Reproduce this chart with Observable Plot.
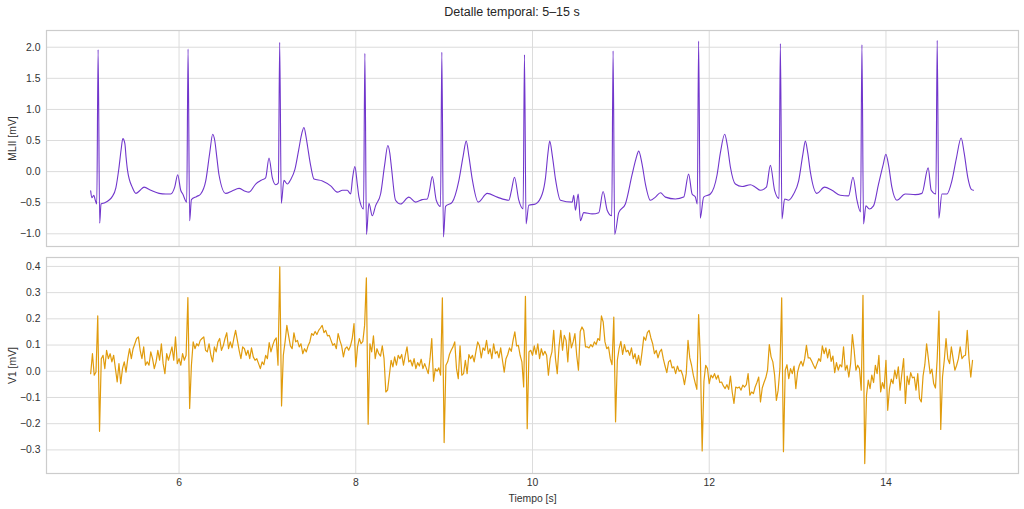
<!DOCTYPE html>
<html><head><meta charset="utf-8">
<script src="https://cdn.jsdelivr.net/npm/d3@7"></script>
<script src="https://cdn.jsdelivr.net/npm/@observablehq/plot@0.6"></script>
<style>
body{margin:0;background:#fff;}
#wrap{position:relative;width:1024px;height:509px;font-family:"Liberation Sans",Arial,sans-serif;overflow:hidden;}
#title{position:absolute;top:4px;left:0;width:1024px;text-align:center;font-size:12.5px;line-height:16px;color:#262626;}
#top{position:absolute;top:0;left:0}
#bot{position:absolute;top:250px;left:0}
</style></head><body>
<div id="wrap"><div id="top"></div><div id="bot"></div><div id="title">Detalle temporal: 5–15 s</div></div>
<script>
// ---- Data ----
const titleText = "Detalle temporal: 5–15 s";
const xTicks = [6, 8, 10, 12, 14];
const yTicksTop = [-1.0, -0.5, 0.0, 0.5, 1.0, 1.5, 2.0];
const yTicksBot = [-0.3, -0.2, -0.1, 0.0, 0.1, 0.2, 0.3, 0.4];

// MLII lead: time [s] and amplitude [mV]
const mliiT = [
5.000,5.013,5.036,5.050,5.069,5.084,5.102,5.117,5.160,5.206,5.240,5.285,5.319,5.345,5.364,5.387,5.400,5.417,5.473,5.512,5.560,5.604,5.680,5.774,5.850,5.906,5.951,5.985,6.019,6.042,6.087,
6.102,6.120,6.140,6.200,6.245,6.302,6.347,6.381,6.404,6.430,6.452,6.528,6.600,6.679,6.740,6.792,6.867,6.930,6.980,7.018,7.056,7.094,7.124,
7.139,7.157,7.187,7.226,7.263,7.312,7.354,7.390,7.414,7.435,7.455,7.489,7.527,7.622,7.716,7.791,7.850,7.904,7.942,7.964,7.990,8.017,8.036,8.088,
8.103,8.121,8.149,8.187,8.224,8.281,8.326,8.363,8.385,8.405,8.450,8.507,8.601,8.677,8.750,8.809,8.835,8.866,8.911,8.959,
8.974,8.992,9.016,9.092,9.166,9.215,9.250,9.280,9.318,9.386,9.488,9.601,9.732,9.762,9.796,9.845,9.894,
9.909,9.927,9.958,10.034,10.110,10.147,10.175,10.195,10.225,10.260,10.316,10.449,10.467,10.486,10.517,10.543,10.580,10.675,10.750,10.799,10.845,10.897,
10.912,10.930,10.976,11.051,11.127,11.170,11.202,11.240,11.278,11.334,11.391,11.448,11.504,11.617,11.711,11.767,11.806,11.843,11.865,
11.880,11.898,11.937,12.013,12.089,12.126,12.175,12.205,12.240,12.296,12.372,12.466,12.522,12.579,12.647,12.692,12.740,12.790,
12.805,12.823,12.853,12.898,12.955,13.012,13.060,13.088,13.115,13.144,13.219,13.305,13.389,13.483,13.577,13.627,13.672,13.713,
13.728,13.746,13.773,13.811,13.859,13.916,13.970,13.999,14.030,14.067,14.124,14.218,14.331,14.407,14.478,14.512,14.565,
14.580,14.598,14.633,14.690,14.746,14.795,14.851,14.885,14.927,14.964,14.990];
const mliiV = [
-0.31,-0.42,-0.38,-0.45,-0.52,1.96,-0.83,-0.52,-0.50,-0.46,-0.41,-0.26,0.05,0.36,0.53,0.45,0.24,0.02,-0.26,-0.35,-0.30,-0.25,-0.30,-0.35,-0.36,-0.36,-0.25,-0.05,-0.30,-0.36,-0.49,
1.97,-0.79,-0.45,-0.40,-0.36,-0.15,0.30,0.60,0.50,0.20,-0.05,-0.35,-0.31,-0.27,-0.31,-0.33,-0.20,-0.14,-0.10,0.22,-0.10,-0.21,-0.18,
2.08,-0.51,-0.14,-0.20,-0.13,0.04,0.35,0.62,0.71,0.58,0.40,0.10,-0.12,-0.15,-0.23,-0.33,-0.30,-0.30,-0.36,-0.10,0.08,-0.20,-0.41,-0.60,
1.90,-1.01,-0.51,-0.71,-0.55,-0.36,0.10,0.42,0.30,0.05,-0.46,-0.52,-0.41,-0.49,-0.45,-0.44,-0.30,-0.08,-0.46,-0.56,
1.92,-1.05,-0.56,-0.49,-0.15,0.25,0.49,0.25,-0.12,-0.49,-0.35,-0.41,-0.46,-0.30,-0.09,-0.46,-0.60,
1.88,-0.84,-0.54,-0.52,-0.36,-0.10,0.30,0.49,0.25,-0.12,-0.46,-0.49,-0.38,-0.62,-0.36,-0.79,-0.66,-0.68,-0.66,-0.32,-0.62,-0.71,
1.94,-1.01,-0.66,-0.52,-0.05,0.20,0.33,0.12,-0.20,-0.46,-0.41,-0.34,-0.41,-0.44,-0.41,-0.04,-0.36,-0.41,-0.52,
2.10,-0.75,-0.41,-0.36,-0.05,0.30,0.60,0.42,0.07,-0.20,-0.24,-0.21,-0.25,-0.30,-0.25,0.10,-0.30,-0.43,
2.06,-0.76,-0.44,-0.46,-0.36,-0.15,0.28,0.49,0.30,0.00,-0.35,-0.25,-0.30,-0.38,-0.39,-0.09,-0.46,-0.65,
2.04,-0.84,-0.55,-0.60,-0.55,-0.20,0.12,0.28,0.10,-0.25,-0.46,-0.36,-0.37,-0.35,0.06,-0.30,-0.36,
2.11,-0.75,-0.36,-0.36,-0.15,0.20,0.54,0.30,-0.10,-0.28,-0.30];

// V1 lead: samples every 0.02 s starting at 5.00 s [mV]
const v1Start = 5.0;
const v1Step = 0.02;
const v1V = [
-0.009,0.067,-0.015,-0.003,0.211,-0.229,0.048,0.061,0.010,0.080,
0.048,0.067,0.036,0.061,0.010,-0.041,0.029,-0.047,0.010,0.036,
-0.003,0.048,0.086,0.048,0.086,0.105,0.125,0.131,0.080,0.048,
0.093,0.023,0.036,0.023,0.074,0.048,0.010,0.036,0.080,0.042,
0.105,0.029,-0.009,0.067,0.042,0.067,0.093,0.042,0.131,0.029,
0.048,0.023,0.067,0.042,0.061,0.281,-0.142,0.023,0.112,0.086,
0.105,0.097,0.118,0.125,0.131,0.080,0.074,0.105,0.061,0.036,
0.093,0.074,0.112,0.125,0.080,0.097,0.125,0.147,0.086,0.112,
0.089,0.125,0.156,0.118,0.080,0.048,0.093,0.086,0.061,0.080,
0.048,0.089,0.055,0.042,0.048,0.029,0.010,0.036,0.025,0.061,
0.048,0.109,0.074,0.099,0.118,0.127,0.023,0.398,-0.132,0.061,
0.112,0.175,0.135,0.097,0.086,0.147,0.112,0.118,0.093,0.105,
0.067,0.086,0.074,0.097,0.112,
0.144,0.137,0.152,0.140,0.156,0.165,0.175,0.147,0.156,0.135,
0.137,0.118,0.099,0.105,0.086,0.144,0.118,0.097,0.055,0.086,
0.093,0.080,0.097,0.125,0.182,0.017,0.093,0.125,0.105,0.114,
0.175,0.356,-0.202,0.105,0.074,0.135,0.048,0.086,0.067,0.058,
0.097,0.048,-0.079,-0.072,-0.015,0.042,0.017,0.055,0.023,0.061,
0.048,0.064,0.023,0.061,0.093,0.036,0.042,0.020,0.048,0.010,
0.033,0.020,0.046,0.010,0.029,0.010,-0.009,0.048,0.125,-0.038,
0.010,0.000,0.013,-0.015,0.280,-0.272,0.023,0.036,0.064,0.080,
0.093,0.112,0.010,-0.028,0.097,-0.015,-0.009,0.042,-0.009,0.064,
0.048,0.061,0.036,0.076,0.112,0.097,0.051,0.089,0.080,0.118,
0.067,0.086,0.048,0.105,0.067,0.076,0.051,0.089,0.042,-0.003,
0.048,0.064,0.089,0.076,0.118,0.150,0.097,0.099,0.061,0.036,
-0.060,0.286,-0.219,0.074,
0.080,0.061,0.097,0.064,0.105,0.048,0.086,0.061,0.076,0.061,
-0.015,0.048,0.074,0.156,0.048,-0.009,0.093,0.156,0.080,0.137,
0.118,0.036,0.147,0.089,0.112,0.144,0.061,0.004,0.152,0.169,
0.156,0.093,0.093,0.089,0.102,0.093,0.112,0.102,0.125,0.118,
0.211,0.188,0.112,0.086,0.093,0.048,0.025,0.207,-0.193,0.042,
0.086,0.114,0.064,0.102,0.074,0.080,0.061,0.089,0.048,0.067,
0.029,0.061,0.023,0.074,0.131,0.118,0.147,0.156,0.127,0.105,
0.067,0.080,0.051,0.074,0.084,0.048,0.020,-0.005,0.036,0.042,
0.013,0.017,-0.009,0.020,0.000,0.004,-0.015,-0.051,-0.009,0.118,
0.051,0.023,-0.015,-0.043,-0.069,0.216,0.048,-0.304,-0.038,0.023,
0.010,-0.047,-0.015,-0.025,-0.009,-0.030,-0.015,-0.043,-0.041,-0.056,
-0.066,-0.051,-0.069,-0.018,-0.079,-0.123,-0.060,-0.064,-0.060,-0.072,
-0.053,-0.060,-0.051,-0.009,-0.091,
-0.079,-0.085,-0.060,-0.043,-0.022,-0.117,-0.064,-0.043,-0.025,0.004,
0.102,0.055,0.036,-0.015,-0.111,-0.072,0.010,0.280,-0.307,0.004,
0.025,-0.028,0.010,-0.009,0.020,-0.066,-0.003,0.023,0.038,0.020,
0.048,0.099,0.051,0.051,0.038,0.023,0.010,0.029,0.048,0.038,
0.097,0.067,0.089,0.051,0.084,0.038,0.058,-0.005,0.033,0.004,
0.025,0.017,0.093,0.004,0.023,-0.022,0.029,0.140,0.080,0.004,
0.023,0.010,-0.072,0.290,-0.352,-0.091,-0.034,-0.066,-0.015,-0.043,
0.023,-0.009,0.061,-0.079,-0.043,-0.066,0.042,-0.149,-0.066,-0.030,
-0.047,0.004,-0.028,0.017,-0.072,-0.009,0.048,-0.123,-0.018,-0.051,
-0.005,-0.025,-0.022,-0.072,-0.009,-0.104,-0.117,-0.018,0.025,0.105,
0.048,-0.009,0.008,-0.047,-0.064,0.048,0.230,-0.222,-0.022,0.042,
0.125,0.048,0.029,0.093,0.048,0.004,0.023,0.048,0.093,0.048,
0.058,0.061,0.156,0.048,-0.022,0.042];

// ---- Build tables ----
const mlii = mliiT.map((t, i) => ({t, v: mliiV[i]}));
const v1 = v1V.map((v, i) => ({t: v1Start + i * v1Step, v}));

const font = '"Liberation Sans", Arial, sans-serif';
const gridColor = "#dcdcdc";
const frameColor = "#cccccc";
const textColor = "#333333";
const fmt1 = d3.format(".1f");
const common = {
  width: 1024, marginLeft: 46, marginRight: 6,
  style: {fontFamily: font, fontSize: "10.4px", color: textColor, background: "transparent", overflow: "visible"}
};

const topPlot = Plot.plot({
  ...common,
  height: 250, marginTop: 30, marginBottom: 4,
  x: {domain: [4.5, 15.5], axis: null},
  y: {domain: [-1.204, 2.269], axis: null},
  marks: [
    Plot.gridX(xTicks, {stroke: gridColor, strokeOpacity: 1, strokeWidth: 1}),
    Plot.gridY(yTicksTop, {stroke: gridColor, strokeOpacity: 1, strokeWidth: 1}),
    Plot.frame({stroke: frameColor, strokeWidth: 1.2}),
    Plot.axisY(yTicksTop, {tickSize: 0, tickPadding: 6, tickFormat: fmt1, fill: textColor,
      label: "MLII [mV]", labelAnchor: "center", labelArrow: "none", labelOffset: 38}),
    Plot.line(mlii, {x: "t", y: "v", stroke: "#7136cc", strokeWidth: 1.1, curve: "monotone-x"})
  ]
});

const botPlot = Plot.plot({
  ...common,
  height: 259, marginTop: 7, marginBottom: 36,
  x: {domain: [4.5, 15.5], axis: null},
  y: {domain: [-0.390, 0.434], axis: null},
  marks: [
    Plot.gridX(xTicks, {stroke: gridColor, strokeOpacity: 1, strokeWidth: 1}),
    Plot.gridY(yTicksBot, {stroke: gridColor, strokeOpacity: 1, strokeWidth: 1}),
    Plot.frame({stroke: frameColor, strokeWidth: 1.2}),
    Plot.axisY(yTicksBot, {tickSize: 0, tickPadding: 6, tickFormat: fmt1, fill: textColor,
      label: "V1 [mV]", labelAnchor: "center", labelArrow: "none", labelOffset: 38}),
    Plot.axisX(xTicks, {tickSize: 0, tickPadding: 5, tickFormat: d => String(d), fill: textColor,
      label: "Tiempo [s]", labelAnchor: "center", labelArrow: "none", labelOffset: 28}),
    Plot.line(v1, {x: "t", y: "v", stroke: "#e09b0c", strokeWidth: 1.2})
  ]
});

document.getElementById("top").appendChild(topPlot);
document.getElementById("bot").appendChild(botPlot);
document.getElementById("title").textContent = titleText;
</script>
</body></html>
